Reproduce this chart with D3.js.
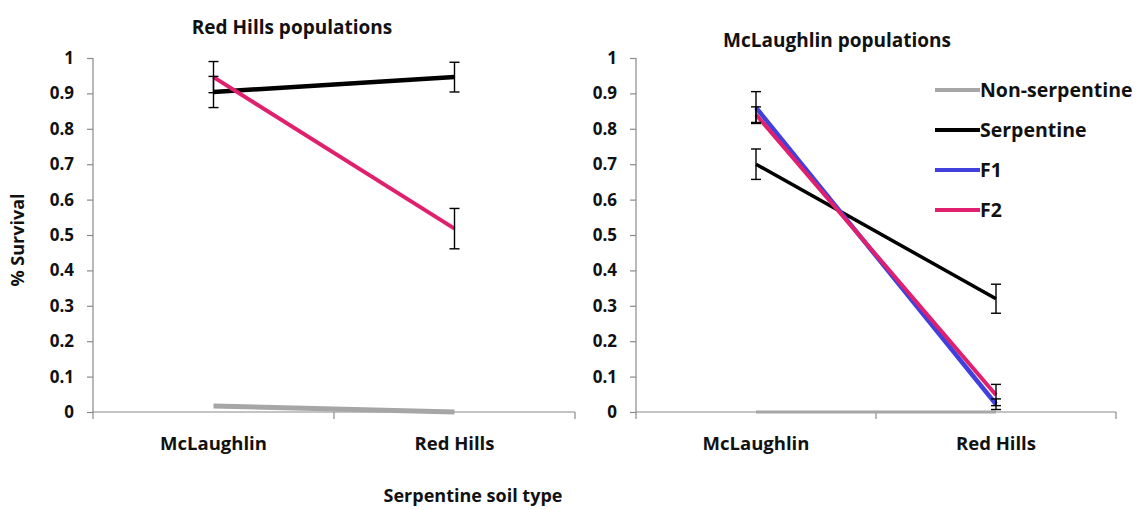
<!DOCTYPE html>
<html>
<head>
<meta charset="utf-8">
<script src="https://cdn.jsdelivr.net/npm/d3@7"></script>
<style>
  html, body { margin: 0; padding: 0; background: #fff; }
  svg text { font-family: "Open Sans", "Noto Sans", sans-serif; font-weight: 700; fill: #111; }
</style>
</head>
<body>
<svg id="chart" width="1135" height="510"></svg>
<script>
// Soil types on the category axis
const categories = ["McLaughlin", "Red Hills"];
const yTickValues = [0, 0.1, 0.2, 0.3, 0.4, 0.5, 0.6, 0.7, 0.8, 0.9, 1];
const yTickLabels = ["0", "0.1", "0.2", "0.3", "0.4", "0.5", "0.6", "0.7", "0.8", "0.9", "1"];
const seriesNames = ["Non-serpentine", "Serpentine", "F1", "F2"];

// Red Hills populations: mean survival and standard error per soil type
const redHillsNonSerpentine = [0.017, 0.0];
const redHillsSerpentine = [0.904, 0.946];
const redHillsSerpentineErr = [0.044, 0.042];
const redHillsF2 = [0.946, 0.518];
const redHillsF2Err = [0.044, 0.057];

// McLaughlin populations
const mclNonSerpentine = [0.0, 0.0];
const mclSerpentine = [0.70, 0.32];
const mclSerpentineErr = [0.043, 0.041];
const mclF1 = [0.86, 0.022];
const mclF1Err = [0.045, 0.015];
const mclF2 = [0.84, 0.048];
const mclF2Err = [0.022, 0.03];

const colors = {
  "Non-serpentine": "#a6a6a6",
  "Serpentine": "#000000",
  "F1": "#4040dc",
  "F2": "#e0206e"
};

const svg = d3.select("#chart");
const axisColor = "#8a8a8a";

function drawPanel(opts) {
  const g = svg.append("g");
  const x = d3.scaleBand().domain(categories).range([opts.left, opts.right]).paddingInner(0).paddingOuter(0);
  const y = d3.scaleLinear().domain([0, 1]).range([opts.bottom, opts.top]);
  const cx = c => x(c) + x.bandwidth() / 2;

  // y axis
  const yAxis = d3.axisLeft(y).tickValues(yTickValues)
    .tickFormat((d, i) => yTickLabels[i]).tickSize(6).tickPadding(13);
  const ya = g.append("g").attr("transform", `translate(${opts.left},0)`).call(yAxis);
  ya.select(".domain").attr("stroke", axisColor).attr("stroke-width", 1.2)
    .attr("d", `M0,${opts.top}V${opts.bottom + 7}`);
  ya.selectAll(".tick line").attr("stroke", axisColor).attr("stroke-width", 1.2);
  ya.selectAll(".tick text").style("font-size", "17px").attr("fill", "#111");

  // x axis: ticks at category boundaries, labels centred in each band
  const boundaries = [opts.left].concat(categories.map(c => x(c) + x.bandwidth()));
  const xa = g.append("g");
  xa.append("line").attr("x1", opts.left).attr("x2", opts.right)
    .attr("y1", opts.bottom).attr("y2", opts.bottom)
    .attr("stroke", axisColor).attr("stroke-width", 1.2);
  xa.selectAll("line.tk").data(boundaries.slice(1)).join("line").attr("class", "tk")
    .attr("x1", d => d).attr("x2", d => d)
    .attr("y1", opts.bottom).attr("y2", opts.bottom + 7)
    .attr("stroke", axisColor).attr("stroke-width", 1.2);
  xa.selectAll("text").data(categories).join("text")
    .attr("x", d => cx(d)).attr("y", opts.bottom + 38)
    .attr("text-anchor", "middle").style("font-size", "18.5px").text(d => d);

  // title
  g.append("text").attr("x", opts.titleX).attr("y", opts.titleY)
    .attr("text-anchor", "middle").style("font-size", "19px").text(opts.title);

  const line = d3.line().x((d, i) => cx(categories[i])).y(d => y(d));

  opts.series.forEach(s => {
    g.append("path").datum(s.values)
      .attr("d", line).attr("fill", "none")
      .attr("stroke", colors[s.name]).attr("stroke-width", s.width || 4)
      .attr("stroke-linecap", "butt");
  });

  // error bars
  opts.series.filter(s => s.err).forEach(s => {
    s.values.forEach((v, i) => {
      const xc = cx(categories[i]);
      const hi = y(v + s.err[i]), lo = y(v - s.err[i]);
      const eg = g.append("g").attr("stroke", "#000").attr("stroke-width", 1.4);
      eg.append("line").attr("x1", xc).attr("x2", xc).attr("y1", hi).attr("y2", lo);
      eg.append("line").attr("x1", xc - 5).attr("x2", xc + 5).attr("y1", hi).attr("y2", hi);
      eg.append("line").attr("x1", xc - 5).attr("x2", xc + 5).attr("y1", lo).attr("y2", lo);
    });
  });
  return { x, y };
}

drawPanel({
  left: 93, right: 575, top: 58, bottom: 412,
  title: "Red Hills populations", titleX: 292, titleY: 34,
  series: [
    { name: "Non-serpentine", values: redHillsNonSerpentine, width: 5 },
    { name: "Serpentine", values: redHillsSerpentine, err: redHillsSerpentineErr, width: 4.5 },
    { name: "F2", values: redHillsF2, err: redHillsF2Err, width: 4 }
  ]
});

drawPanel({
  left: 636, right: 1116, top: 58, bottom: 412,
  title: "McLaughlin populations", titleX: 837, titleY: 47,
  series: [
    { name: "Non-serpentine", values: mclNonSerpentine, width: 3 },
    { name: "Serpentine", values: mclSerpentine, err: mclSerpentineErr, width: 3.5 },
    { name: "F1", values: mclF1, err: mclF1Err, width: 4.5 },
    { name: "F2", values: mclF2, err: mclF2Err, width: 4 }
  ]
});

// legend
const legend = svg.append("g").attr("transform", "translate(935,90)");
const rows = legend.selectAll("g").data(seriesNames).join("g")
  .attr("transform", (d, i) => `translate(0,${i * 40})`);
rows.append("line").attr("x1", 0).attr("x2", 45).attr("y1", 0).attr("y2", 0)
  .attr("stroke", d => colors[d]).attr("stroke-width", 4);
rows.append("text").attr("x", 45).attr("y", 0).attr("dy", "0.35em")
  .style("font-size", "19.5px").text(d => d);

// shared axis titles
svg.append("text").attr("transform", "translate(24,240) rotate(-90)")
  .attr("text-anchor", "middle").style("font-size", "18px").text("% Survival");
svg.append("text").attr("x", 473).attr("y", 502)
  .attr("text-anchor", "middle").style("font-size", "18px").text("Serpentine soil type");
</script>
</body>
</html>
